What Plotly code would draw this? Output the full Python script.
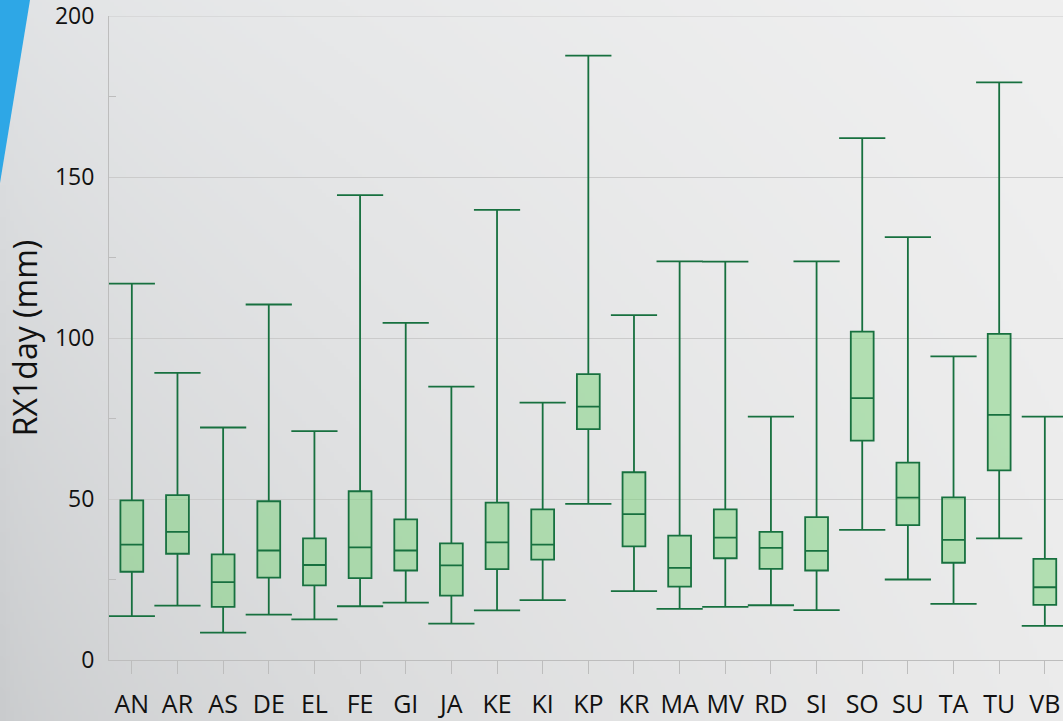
import base64
import struct
import zlib

import numpy as np
import plotly.graph_objects as go

# RX1day distribution per station (mm)
stations = ["AN", "AR", "AS", "DE", "EL", "FE", "GI", "JA", "KE", "KI", "KP",
            "KR", "MA", "MV", "RD", "SI", "SO", "SU", "TA", "TU", "VB"]
whisker_max = [116.9, 89.2, 72.2, 110.4, 71.1, 144.4, 104.7, 84.9, 139.8, 79.9, 187.7,
               107.1, 123.8, 123.7, 75.6, 123.8, 162.1, 131.3, 94.3, 179.4, 75.6]
quartile3 = [49.6, 51.2, 32.8, 49.3, 37.8, 52.4, 43.7, 36.2, 48.9, 46.8, 88.8,
             58.3, 38.6, 46.8, 39.8, 44.4, 102.0, 61.3, 50.5, 101.3, 31.4]
medians = [35.8, 39.8, 24.2, 34.0, 29.5, 35.0, 34.0, 29.4, 36.5, 35.8, 78.7,
           45.3, 28.6, 38.0, 34.8, 33.9, 81.3, 50.4, 37.3, 76.1, 22.6]
quartile1 = [27.4, 33.0, 16.5, 25.6, 23.2, 25.4, 27.8, 20.0, 28.2, 31.2, 71.7,
             35.3, 22.8, 31.6, 28.3, 27.8, 68.1, 41.9, 30.2, 58.9, 17.1]
whisker_min = [13.6, 16.9, 8.5, 14.1, 12.6, 16.7, 17.8, 11.3, 15.4, 18.6, 48.5,
               21.4, 15.9, 16.5, 17.0, 15.5, 40.4, 25.0, 17.4, 37.8, 10.6]
y_max = 200
y_step = 50

W, H = 1063, 721
ML, MR, MT, MB = 109, 0, 16, 61
PW, PH = W - ML - MR, H - MT - MB

LINE = "#17703f"
FILL = "rgba(120,210,120,0.5)"
AXIS = "#bdbdbd"
GRID = "#cbcbcb"
FONT = "Open Sans"


def png_uri(rgb):
    """Encode an HxWx3 uint8 array as a PNG data URI."""
    h, w, _ = rgb.shape
    raw = b"".join(b"\x00" + rgb[r].tobytes() for r in range(h))

    def chunk(tag, data):
        body = tag + data
        return struct.pack(">I", len(data)) + body + struct.pack(">I", zlib.crc32(body) & 0xFFFFFFFF)

    png = (b"\x89PNG\r\n\x1a\n"
           + chunk(b"IHDR", struct.pack(">IIBBBBB", w, h, 8, 2, 0, 0, 0))
           + chunk(b"IDAT", zlib.compress(raw, 9))
           + chunk(b"IEND", b""))
    return "data:image/png;base64," + base64.b64encode(png).decode()


# soft grey backdrop: darker towards the lower left, lighter towards the right
gw, gh = 266, 181
gx = np.linspace(0, 1, gw)[None, :]
gy = np.linspace(0, 1, gh)[:, None]
wgt = gx ** 0.6
left = 224 - 23 * gy
right = 240 - 5 * gy
v = left + (right - left) * wgt
rgb = np.stack([v, v + 2 * (1 - wgt), v + 4 * (1 - wgt)], axis=-1)
bg_uri = png_uri(np.clip(rgb, 0, 255).astype(np.uint8))


def px(xp):
    return (xp - ML) / PW


def py(yp):
    return (H - MB - yp) / PH


fig = go.Figure()

fig.add_trace(go.Box(
    x=stations,
    q1=quartile1, median=medians, q3=quartile3,
    lowerfence=whisker_min, upperfence=whisker_max,
    width=0.5,
    whiskerwidth=0,
    boxpoints=False,
    fillcolor=FILL,
    line=dict(color=LINE, width=1.8),
    hoverinfo="skip",
    showlegend=False,
))

# whisker end caps
for ends in (whisker_max, whisker_min):
    fig.add_trace(go.Scatter(
        x=stations, y=ends, mode="markers",
        marker=dict(symbol="line-ew", size=33, line=dict(color=LINE, width=1.8)),
        hoverinfo="skip", showlegend=False,
    ))

fig.update_layout(
    width=W, height=H,
    margin=dict(l=ML, r=MR, t=MT, b=MB, pad=0),
    paper_bgcolor="#e2e3e4",
    plot_bgcolor="rgba(0,0,0,0)",
    font=dict(family=FONT, color="#111111"),
    images=[dict(
        source=bg_uri, xref="paper", yref="paper",
        x=px(0), y=py(0), sizex=W / PW, sizey=H / PH,
        xanchor="left", yanchor="top", sizing="stretch", layer="below",
    )],
    shapes=[
        dict(type="path", xref="paper", yref="paper", layer="below",
             path=f"M {px(0)} {py(0)} L {px(30)} {py(0)} L {px(0)} {py(183)} Z",
             fillcolor="#2ea7e6", line=dict(width=0)),
        # top gridline of the value axis
        dict(type="line", xref="paper", yref="y", layer="below",
             x0=0, x1=1, y0=y_max, y1=y_max, line=dict(color=GRID, width=1)),
    ],
    xaxis=dict(
        type="category",
        range=[-0.5, -0.5 + PW / 45.65],
        showline=True, linecolor=AXIS, linewidth=1,
        ticks="outside", ticklen=13, tickcolor=AXIS, tickwidth=1,
        tickangle=0,
        ticklabelstandoff=9,
        tickfont=dict(size=25, family=FONT, color="#111111"),
        showgrid=False,
    ),
    yaxis=dict(
        range=[0, y_max],
        tickmode="linear", tick0=0, dtick=y_step,
        ticks="",
        showline=True, linecolor=AXIS, linewidth=1,
        showgrid=True, gridcolor=GRID, gridwidth=1,
        zeroline=False,
        ticklabelstandoff=9,
        ticklabeloverflow="allow",
        tickfont=dict(size=23, family=FONT, color="#111111"),
        minor=dict(ticks="inside", ticklen=7, tickcolor=AXIS, dtick=y_step / 2, showgrid=False),
        title=dict(text="RX1day (mm)", font=dict(size=32, family=FONT, color="#111111"),
                   standoff=7),
    ),
)

fig.write_html("out.html")
